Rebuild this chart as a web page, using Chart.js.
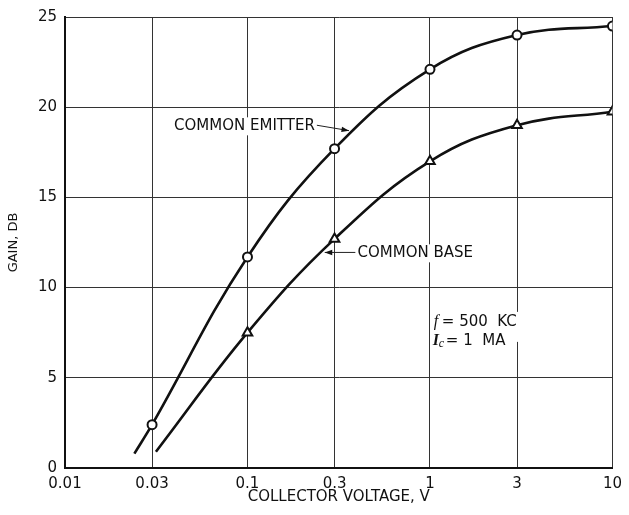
<!DOCTYPE html>
<html>
<head>
<meta charset="utf-8">
<script src="https://cdn.jsdelivr.net/npm/chart.js@4/dist/chart.umd.min.js"></script>
<style>
  html, body { margin: 0; padding: 0; background: #fff; }
  #wrap { width: 629px; height: 515px; }
</style>
</head>
<body>
<div id="wrap"><canvas id="chart"></canvas></div>
<script>
// collector voltage ticks (log axis)
var xTicks = [0.01, 0.03, 0.1, 0.3, 1, 3, 10];

// common emitter: marker points + where the drawn curve begins
var ceVolts = [0.03, 0.1, 0.3, 1, 3, 10];
var ceGain = [2.4, 11.7, 17.7, 22.1, 24.0, 24.5];
var ceStart = { x: 0.024, y: 0.8 };

// common base
var cbVolts = [0.1, 0.3, 1, 3, 10];
var cbGain = [7.5, 12.7, 17.0, 19.0, 19.75];
var cbStart = { x: 0.0315, y: 0.9 };

function pts(xs, ys) {
	return xs.map(function (v, i) { return { x: v, y: ys[i] }; });
}

var FONT = "'DejaVu Sans', sans-serif";

// text labels drawn in data coordinates
var notes = {
	id: 'notes',
	afterDatasetsDraw: function (chart) {
		var ctx = chart.ctx, x = chart.scales.x, y = chart.scales.y;
		function txt(s, vx, vy, font) {
			ctx.font = font;
			var px = x.getPixelForValue(vx), py = y.getPixelForValue(vy);
			var w = ctx.measureText(s).width;
			ctx.fillStyle = '#fff';
			ctx.fillRect(px - 2, py - 9, w + 4, 18);
			ctx.fillStyle = '#111';
			ctx.textBaseline = 'middle';
			ctx.textAlign = 'left';
			ctx.fillText(s, px, py);
			return px + w;
		}
		function arrow(x0, y0, x1, y1) {
			var a = x.getPixelForValue(x0), b = y.getPixelForValue(y0);
			var c = x.getPixelForValue(x1), d = y.getPixelForValue(y1);
			ctx.strokeStyle = '#222';
			ctx.lineWidth = 1;
			ctx.beginPath(); ctx.moveTo(a, b); ctx.lineTo(c, d); ctx.stroke();
			var ang = Math.atan2(d - b, c - a);
			ctx.fillStyle = '#111';
			ctx.beginPath();
			ctx.moveTo(c, d);
			ctx.lineTo(c - 8 * Math.cos(ang - 0.35), d - 8 * Math.sin(ang - 0.35));
			ctx.lineTo(c - 8 * Math.cos(ang + 0.35), d - 8 * Math.sin(ang + 0.35));
			ctx.closePath(); ctx.fill();
		}
		ctx.save();
		txt('COMMON EMITTER', 0.0396, 18.94, '15px ' + FONT);
		arrow(0.24, 19.0, 0.36, 18.7);
		txt('COMMON BASE', 0.401, 11.9, '15px ' + FONT);
		arrow(0.39, 11.95, 0.265, 11.95);

		// f = 500 KC / Ic = 1 MA
		var px = x.getPixelForValue(1.05);
		var p1 = y.getPixelForValue(8.1), p2 = y.getPixelForValue(7.05);
		ctx.fillStyle = '#fff';
		ctx.fillRect(px - 3, p1 - 10, 90, 30);
		ctx.fillStyle = '#111';
		ctx.textBaseline = 'middle';
		ctx.textAlign = 'left';
		ctx.font = 'italic 16px "Liberation Serif", serif';
		ctx.fillText('f', px, p1);
		ctx.font = '15px ' + FONT;
		ctx.fillText('= 500  KC', px + 8, p1);
		ctx.font = 'italic bold 16px "Liberation Serif", serif';
		ctx.fillText('I', px - 1, p2);
		ctx.font = 'italic 12px "Liberation Serif", serif';
		ctx.fillText('c', px + 5, p2 + 3);
		ctx.font = '15px ' + FONT;
		ctx.fillText('= 1  MA', px + 12, p2);
		ctx.restore();
	}
};

var ctx = document.getElementById('chart').getContext('2d');
var chart = new Chart(ctx, {
	type: 'line',
	data: {
		datasets: [{
			label: 'Common emitter',
			data: [ceStart].concat(pts(ceVolts, ceGain)),
			borderColor: '#111',
			borderWidth: 2.6,
			tension: 0.4,
			pointStyle: 'circle',
			pointRadius: function (c) { return c.dataIndex === 0 ? 0 : 4.5; },
			pointBorderWidth: 2,
			pointBorderColor: '#111',
			pointBackgroundColor: '#fff'
		}, {
			label: 'Common base',
			data: [cbStart].concat(pts(cbVolts, cbGain)),
			borderColor: '#111',
			borderWidth: 2.6,
			tension: 0.4,
			pointStyle: 'triangle',
			pointRadius: function (c) { return c.dataIndex === 0 ? 0 : 5.5; },
			pointBorderWidth: 2,
			pointBorderColor: '#111',
			pointBackgroundColor: '#fff'
		}]
	},
	options: {
		responsive: true,
		maintainAspectRatio: false,
		animation: false,
		layout: { padding: { left: 0, right: 12, top: 14, bottom: 0 } },
		plugins: {
			legend: { display: false },
			tooltip: { enabled: false }
		},
		scales: {
			x: {
				type: 'logarithmic',
				min: 0.01,
				max: 10,
				afterBuildTicks: function (s) {
					s.ticks = xTicks.map(function (v) { return { value: v }; });
				},
				afterFit: function (s) { s.height = 47; },
				ticks: {
					autoSkip: false,
					maxRotation: 0,
					padding: 7,
					color: '#111',
					font: { family: FONT, size: 15 },
					callback: function (v) { return String(v); }
				},
				grid: { color: '#333', lineWidth: 1, drawTicks: false },
				border: { color: '#111', width: 2 },
				title: {
					display: true,
					text: 'COLLECTOR VOLTAGE, V',
					color: '#111',
					font: { family: FONT, size: 15 },
					padding: { top: 0, bottom: 9 }
				}
			},
			y: {
				min: 0,
				max: 25,
				afterFit: function (s) { s.width = 65; },
				ticks: {
					stepSize: 5,
					padding: 8,
					color: '#111',
					font: { family: FONT, size: 15 }
				},
				grid: { color: '#333', lineWidth: 1, drawTicks: false },
				border: { color: '#111', width: 2 },
				title: {
					display: true,
					text: 'GAIN, DB',
					color: '#111',
					font: { family: FONT, size: 13 },
					padding: { top: 6, bottom: 0 }
				}
			}
		}
	},
	plugins: [notes]
});
</script>
</body>
</html>
